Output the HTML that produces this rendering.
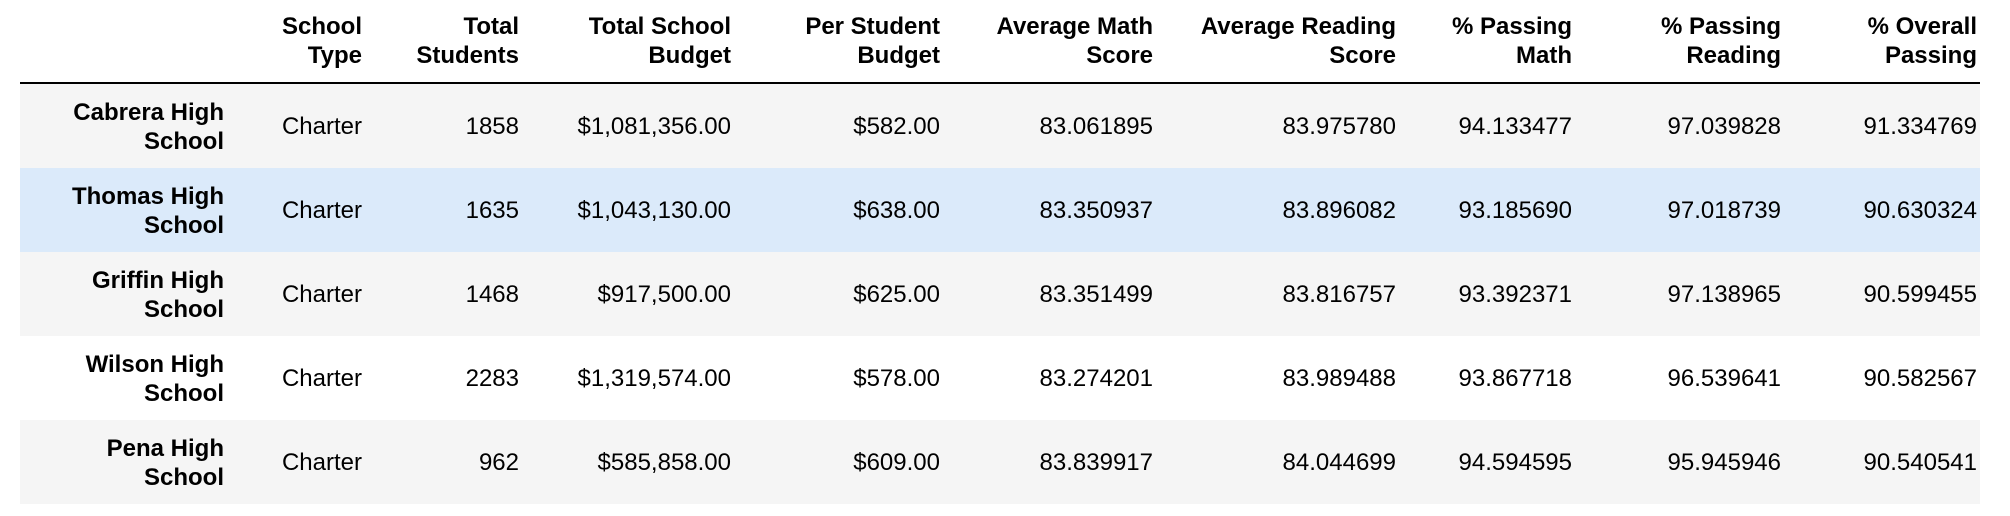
<!DOCTYPE html>
<html><head><meta charset="utf-8"><style>
body{margin:0;width:2010px;height:516px;background:#fff;font-family:"Liberation Sans",Arial,sans-serif;color:#000;overflow:hidden;position:relative}
.c{position:absolute;text-align:right;font-size:24px;line-height:29px;white-space:nowrap}
.h{font-weight:bold}
.row{position:absolute;left:20px;width:1960px;height:84px}
</style></head><body>
<div id="t"></div>
<script>
const headers=[["",""],["School","Type"],["Total","Students"],["Total School","Budget"],["Per Student","Budget"],["Average Math","Score"],["Average Reading","Score"],["% Passing","Math"],["% Passing","Reading"],["% Overall","Passing"]];
const schools=[["Cabrera High","School"],["Thomas High","School"],["Griffin High","School"],["Wilson High","School"],["Pena High","School"]];
const types=["Charter","Charter","Charter","Charter","Charter"];
const students=["1858","1635","1468","2283","962"];
const budgets=["$1,081,356.00","$1,043,130.00","$917,500.00","$1,319,574.00","$585,858.00"];
const perStudent=["$582.00","$638.00","$625.00","$578.00","$609.00"];
const mathScore=["83.061895","83.350937","83.351499","83.274201","83.839917"];
const readScore=["83.975780","83.896082","83.816757","83.989488","84.044699"];
const passMath=["94.133477","93.185690","93.392371","93.867718","94.594595"];
const passRead=["97.039828","97.018739","97.138965","96.539641","95.945946"];
const overall=["91.334769","90.630324","90.599455","90.582567","90.540541"];
const rights=[224,362,519,731,940,1153,1396,1572,1781,1977];
const rowBg=["#f5f5f5","#dbeafa","#f5f5f5","#ffffff","#f5f5f5"];
const t=document.getElementById('t');
function cell(txt,right,top,cls,name){const d=document.createElement('div');d.className='c '+cls;d.style.right=(2010-right)+'px';d.style.top=top+'px';d.innerHTML=txt;


t.appendChild(d);}
headers.forEach((h,i)=>{if(h[0])cell(h[0]+'<br>'+h[1],rights[i],12,'h','column-header');});
const line=document.createElement('div');line.style.cssText='position:absolute;left:20px;top:82px;width:1960px;height:2px;background:#000';


t.appendChild(line);
const cols=[types,students,budgets,perStudent,mathScore,readScore,passMath,passRead,overall];
schools.forEach((s,r)=>{const top=84+r*84;const rw=document.createElement('div');rw.className='row';rw.style.top=top+'px';rw.style.background=rowBg[r];


t.appendChild(rw);
cell(s[0]+'<br>'+s[1],rights[0],top+14,'h','school-name');
cols.forEach((c,i)=>cell(c[r],rights[i+1],top+28,'','table-cell'));});
</script></body></html>
